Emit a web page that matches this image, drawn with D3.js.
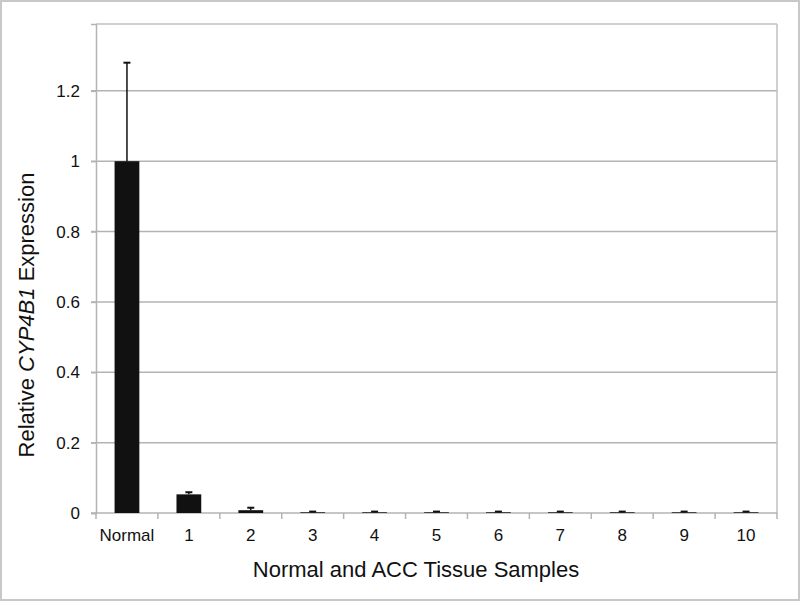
<!DOCTYPE html>
<html><head><meta charset="utf-8">
<script src="https://cdn.jsdelivr.net/npm/d3@7"></script>
<style>body{margin:0;background:#fff}svg{display:block}</style>
</head><body>
<svg id="c" width="800" height="601"></svg>
<script>
const categories = ["Normal","1","2","3","4","5","6","7","8","9","10"];
const values = [1.0, 0.053, 0.008, 0.002, 0.002, 0.002, 0.002, 0.002, 0.002, 0.002, 0.002];
const errors = [0.28, 0.006, 0.007, 0.002, 0.002, 0.002, 0.002, 0.002, 0.002, 0.002, 0.002];
const yTicks = [0, 0.2, 0.4, 0.6, 0.8, 1, 1.2];

const svg = d3.select("#c");
const font = "'Liberation Sans', Arial, sans-serif";
const m = {l:96, r:777, t:24, b:513};

svg.append("rect").attr("x",1).attr("y",1).attr("width",798).attr("height",599)
  .attr("fill","#fff").attr("stroke","#c8c8c8").attr("stroke-width",2);

const x = d3.scaleBand().domain(categories).range([m.l, m.r]).paddingInner(0.6).paddingOuter(0.3);
const y = d3.scaleLinear().domain([0, 1.39]).range([m.b, m.t]);

// gridlines
svg.append("g").selectAll("line").data(yTicks.filter(d=>d>0)).join("line")
  .attr("x1", m.l-5).attr("x2", m.r).attr("y1", d=>y(d)).attr("y2", d=>y(d))
  .attr("stroke","#b3b3b3").attr("stroke-width",1.5);

// plot border top & right
svg.append("line").attr("x1",m.l).attr("x2",m.r).attr("y1",m.t).attr("y2",m.t).attr("stroke","#c0c0c0").attr("stroke-width",1.5);
svg.append("line").attr("x1",m.r).attr("x2",m.r).attr("y1",m.t).attr("y2",m.b).attr("stroke","#c0c0c0").attr("stroke-width",1.5);

// y axis
const ya = svg.append("g").attr("transform",`translate(${m.l},0)`)
  .call(d3.axisLeft(y).tickValues(yTicks).tickSize(5).tickPadding(11).tickFormat(d=>d===0?"0":String(d)));
ya.select(".domain").attr("stroke","#b3b3b3").attr("stroke-width",1.5);
ya.selectAll(".tick line").attr("stroke","#b3b3b3").attr("stroke-width",1.5);
ya.selectAll("text").attr("font-family",font).attr("font-size",17).attr("fill","#111");

// x axis
const step = x.step();
const xa = svg.append("g").attr("transform",`translate(0,${m.b})`);
xa.append("line").attr("x1",m.l-5).attr("x2",m.r).attr("y1",0).attr("y2",0).attr("stroke","#b3b3b3").attr("stroke-width",1.5);
const bounds = d3.range(categories.length+1).map(i=>m.l + i*step);
xa.selectAll(".tk").data(bounds).join("line").attr("class","tk")
  .attr("x1",d=>d).attr("x2",d=>d).attr("y1",0).attr("y2",6).attr("stroke","#b3b3b3").attr("stroke-width",1.5);
xa.selectAll("text").data(categories).join("text")
  .attr("x",d=>x(d)+x.bandwidth()/2).attr("y",28).attr("text-anchor","middle")
  .attr("font-family",font).attr("font-size",17).attr("fill","#111").text(d=>d);

// bars
svg.append("g").selectAll("rect").data(categories).join("rect")
  .attr("x",d=>x(d)).attr("width",x.bandwidth())
  .attr("y",(d,i)=>y(values[i])).attr("height",(d,i)=>y(0)-y(values[i]))
  .attr("fill","#111");

// error bars
const eb = svg.append("g");
categories.forEach((c,i)=>{
  const cx = x(c)+x.bandwidth()/2;
  const top = y(values[i]+errors[i]);
  eb.append("line").attr("x1",cx).attr("x2",cx).attr("y1",y(values[i])).attr("y2",top).attr("stroke","#111").attr("stroke-width",1.5);
  eb.append("line").attr("x1",cx-3.5).attr("x2",cx+3.5).attr("y1",top).attr("y2",top).attr("stroke","#111").attr("stroke-width",2);
});

// axis titles
svg.append("text").attr("x",416).attr("y",577).attr("text-anchor","middle")
  .attr("font-family",font).attr("font-size",22).attr("fill","#111").text("Normal and ACC Tissue Samples");
const yt = svg.append("text").attr("transform",`translate(34,315) rotate(-90)`).attr("text-anchor","middle")
  .attr("font-family",font).attr("font-size",22).attr("fill","#111");
yt.append("tspan").text("Relative ");
yt.append("tspan").attr("font-style","italic").text("CYP4B1");
yt.append("tspan").text(" Expression");
</script>
</body></html>
